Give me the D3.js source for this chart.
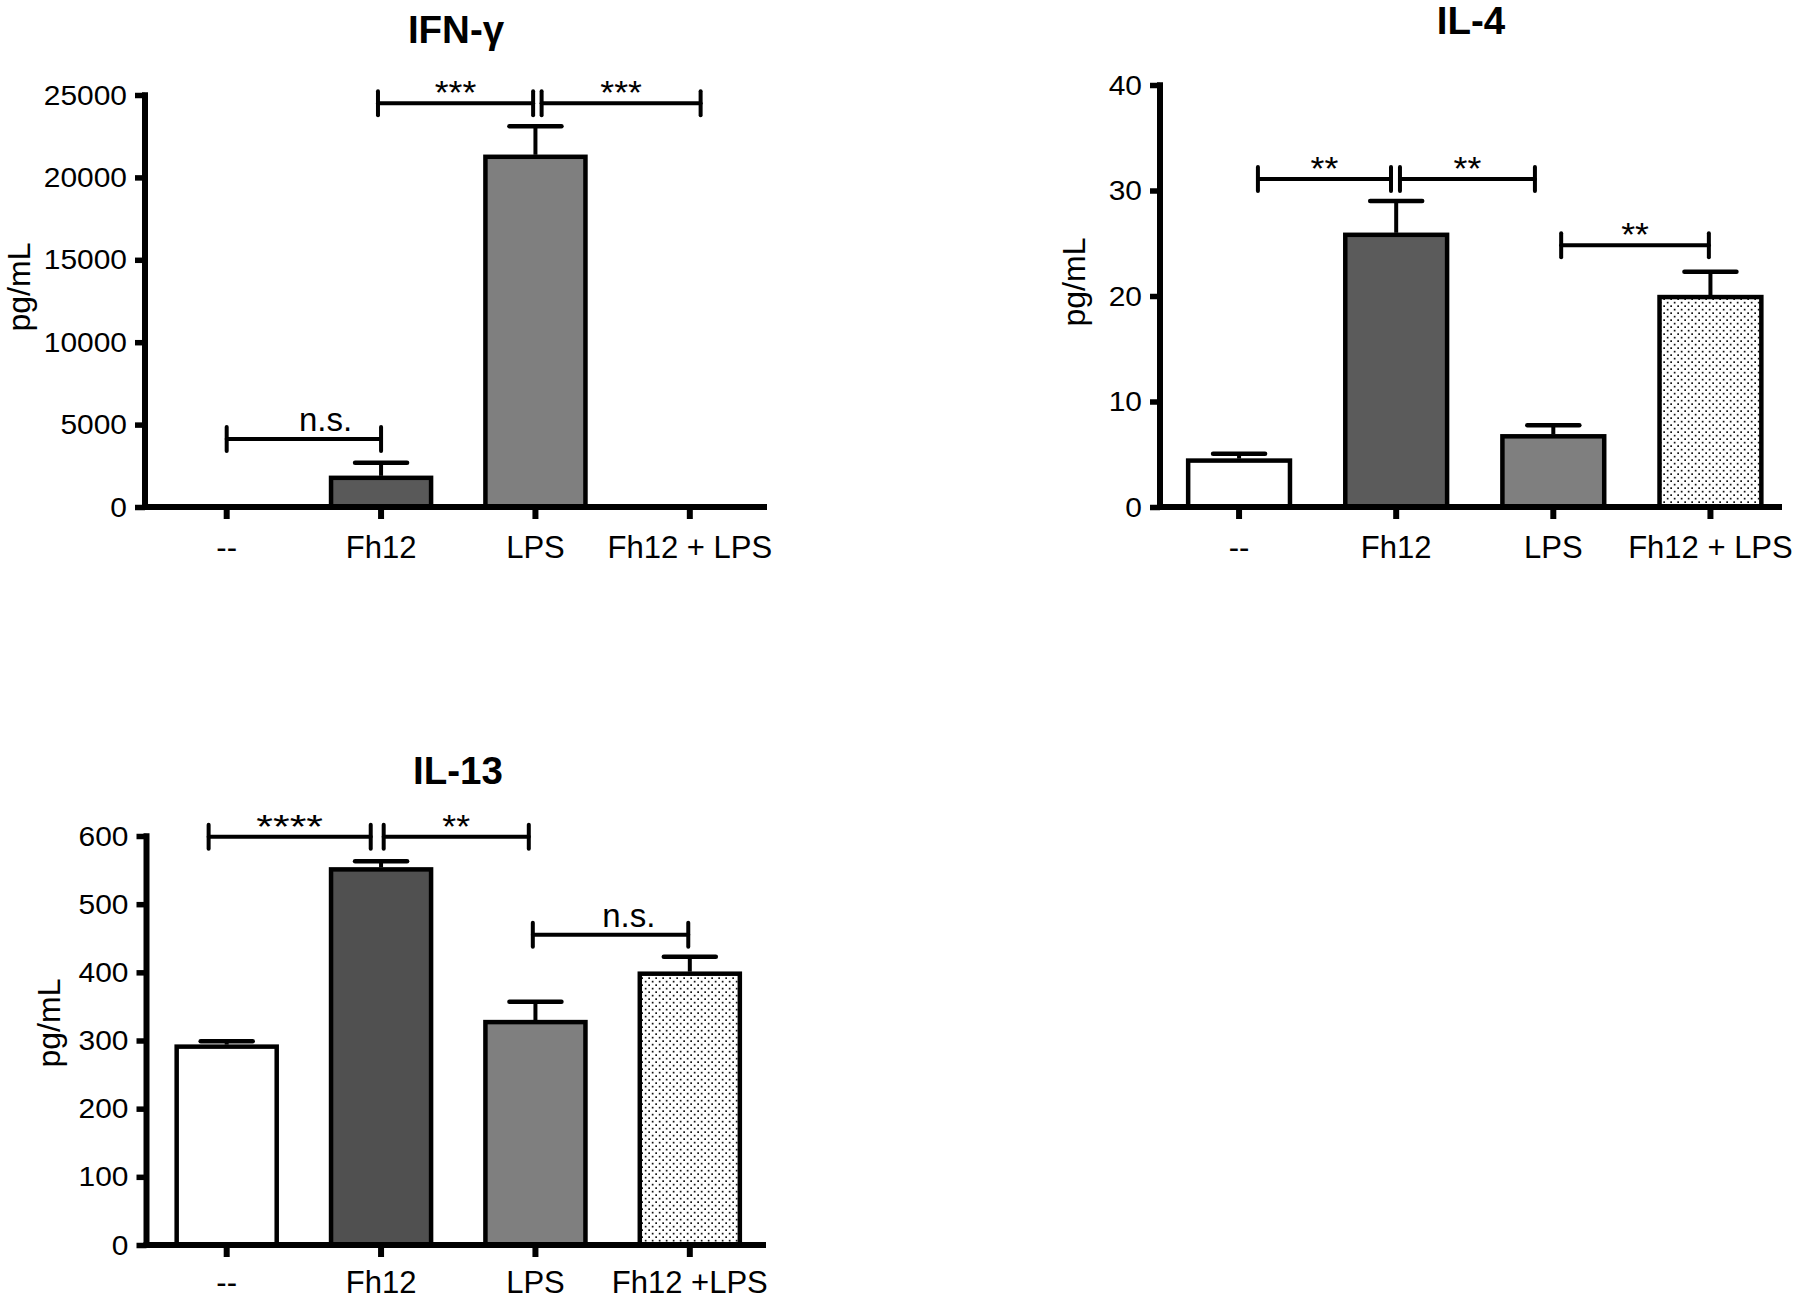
<!DOCTYPE html>
<html><head><meta charset="utf-8">
<script src="https://cdn.jsdelivr.net/npm/d3@7"></script>
<style>
body{margin:0;background:#fff}
text{font-family:"Liberation Sans",Arial,Helvetica,sans-serif;fill:#000}
</style>
</head><body>
<svg id="chart" width="1800" height="1299"></svg>
<script>
// ---------- data ----------
const categories = ["--", "Fh12", "LPS", "Fh12 + LPS"];
const categoriesIL13 = ["--", "Fh12", "LPS", "Fh12 +LPS"];

const ifnValues = [0, 1770, 21250, 0];
const ifnErrors = [0, 920, 1850, 0];
const ifnTicks = [0, 5000, 10000, 15000, 20000, 25000];

const il4Values = [4.4, 25.8, 6.7, 19.9];
const il4Errors = [0.65, 3.2, 1.05, 2.4];
const il4Ticks = [0, 10, 20, 30, 40];

const il13Values = [291, 551, 327, 398];
const il13Errors = [8, 12, 30, 25];
const il13Ticks = [0, 100, 200, 300, 400, 500, 600];

// significance brackets: from / to (category-index units), height (data units), label, label position (category units, null = middle)
const ifnBrackets = [
  [0.0, 1.0, 4130, "n.s.", 0.64],
  [0.98, 1.985, 24500, "***", null],
  [2.04, 3.07, 24500, "***", null]
];
const il4Brackets = [
  [0.12, 0.967, 31.1, "**", null],
  [1.024, 1.883, 31.1, "**", null],
  [2.05, 2.99, 24.8, "**", null]
];
const il13Brackets = [
  [-0.117, 0.933, 599, "****", null],
  [1.017, 1.957, 599, "**", null],
  [1.983, 2.99, 455, "n.s.", 2.605]
];

// ---------- styles / layout ----------
const svg = d3.select("#chart");
const defs = svg.append("defs");
const pat = defs.append("pattern").attr("id", "dots")
  .attr("patternUnits", "userSpaceOnUse").attr("width", 7).attr("height", 7);
pat.append("rect").attr("width", 7).attr("height", 7).attr("fill", "#fff");
pat.append("rect").attr("x", 0.8).attr("y", 0.8).attr("width", 1.7).attr("height", 1.7).attr("fill", "#111");
pat.append("rect").attr("x", 4.3).attr("y", 4.3).attr("width", 1.7).attr("height", 1.7).attr("fill", "#111");

const panels = [
  {title: "IFN-γ", cats: categories, values: ifnValues, errors: ifnErrors, ticks: ifnTicks, brackets: ifnBrackets,
   fills: ["#ffffff", "#595959", "#7f7f7f", "url(#dots)"],
   axisX: 145, range: [149.5, 767], axisEnd: 767, y0: 507, yTop: 95, catPad: 17,
   titlePos: [456, 43], ylabPos: [19, 287]},
  {title: "IL-4", cats: categories, values: il4Values, errors: il4Errors, ticks: il4Ticks, brackets: il4Brackets,
   fills: ["#ffffff", "#5b5b5b", "#7f7f7f", "url(#dots)"],
   axisX: 1160, range: [1160.5, 1789], axisEnd: 1782, y0: 507, yTop: 85, catPad: 17,
   titlePos: [1471, 34], ylabPos: [1074, 282]},
  {title: "IL-13", cats: categoriesIL13, values: il13Values, errors: il13Errors, ticks: il13Ticks, brackets: il13Brackets,
   fills: ["#ffffff", "#505050", "#7f7f7f", "url(#dots)"],
   axisX: 146.5, range: [149.5, 767], axisEnd: 766, y0: 1245, yTop: 836, catPad: 14,
   titlePos: [458, 784], ylabPos: [49, 1023]}
];

function stretch(sel, k) {
  sel.each(function () {
    const w = this.getComputedTextLength();
    d3.select(this).attr("textLength", w * k).attr("lengthAdjust", "spacingAndGlyphs");
  });
}

panels.forEach(p => {
  const g = svg.append("g");
  const x = d3.scaleBand().domain(p.cats).range(p.range).paddingInner(0.352).paddingOuter(0.176);
  const step = x.step();
  const c0 = x(p.cats[0]) + x.bandwidth() / 2;
  const xi = i => c0 + i * step; // category-index position
  const y = d3.scaleLinear().domain([0, d3.max(p.ticks)]).range([p.y0, p.yTop]);

  const rows = p.cats.map((c, i) => ({c, v: p.values[i], e: p.errors[i], f: p.fills[i]}));

  // bars
  g.selectAll("rect.bar").data(rows.filter(d => d.v > 0)).join("rect")
    .attr("class", "bar")
    .attr("x", d => x(d.c)).attr("width", x.bandwidth())
    .attr("y", d => y(d.v)).attr("height", d => y(0) - y(d.v))
    .attr("fill", d => d.f).attr("stroke", "#000").attr("stroke-width", 4.5);

  // error bars (upper only)
  const eb = g.selectAll("g.err").data(rows.filter(d => d.e > 0)).join("g").attr("class", "err");
  eb.append("line")
    .attr("x1", d => x(d.c) + x.bandwidth() / 2).attr("x2", d => x(d.c) + x.bandwidth() / 2)
    .attr("y1", d => y(d.v) - 2).attr("y2", d => y(d.v + d.e))
    .attr("stroke", "#000").attr("stroke-width", 4);
  eb.append("line")
    .attr("x1", d => x(d.c) + x.bandwidth() / 2 - 26).attr("x2", d => x(d.c) + x.bandwidth() / 2 + 26)
    .attr("y1", d => y(d.v + d.e)).attr("y2", d => y(d.v + d.e))
    .attr("stroke", "#000").attr("stroke-width", 4.5).attr("stroke-linecap", "round");

  // y axis
  const yAxis = d3.axisLeft(y).tickValues(p.ticks).tickSize(10).tickPadding(8).tickFormat(d3.format("d"));
  const ya = g.append("g").attr("transform", `translate(${p.axisX},0)`).call(yAxis);
  ya.select(".domain").remove();
  ya.selectAll(".tick line").attr("stroke", "#000").attr("stroke-width", 5.5);
  ya.selectAll(".tick text").attr("font-size", 28.5).attr("fill", "#000")
    .style("font-family", "'Liberation Sans',Arial,sans-serif");
  stretch(ya.selectAll(".tick text"), 1.05);
  g.append("line").attr("x1", p.axisX).attr("x2", p.axisX)
    .attr("y1", p.yTop - 2.75).attr("y2", p.y0 + 3)
    .attr("stroke", "#000").attr("stroke-width", 6);

  // x axis
  const xAxis = d3.axisBottom(x).tickSize(12).tickPadding(p.catPad);
  const xa = g.append("g").attr("transform", `translate(0,${p.y0})`).call(xAxis);
  xa.select(".domain").remove();
  xa.selectAll(".tick line").attr("stroke", "#000").attr("stroke-width", 6);
  xa.selectAll(".tick text").attr("font-size", 31).attr("fill", "#000")
    .style("font-family", "'Liberation Sans',Arial,sans-serif");
  g.append("line").attr("x1", p.axisX - 3).attr("x2", p.axisEnd)
    .attr("y1", p.y0).attr("y2", p.y0)
    .attr("stroke", "#000").attr("stroke-width", 6);

  // significance brackets
  p.brackets.forEach(b => {
    const [a, bb, v, lab, lp] = b;
    const x1 = xi(a), x2 = xi(bb), yy = y(v);
    const bg = g.append("g").attr("stroke", "#000").attr("stroke-width", 4).attr("stroke-linecap", "round");
    bg.append("line").attr("x1", x1).attr("x2", x2).attr("y1", yy).attr("y2", yy);
    bg.append("line").attr("x1", x1).attr("x2", x1).attr("y1", yy - 12).attr("y2", yy + 12);
    bg.append("line").attr("x1", x2).attr("x2", x2).attr("y1", yy - 12).attr("y2", yy + 12);
    const tx = lp === null ? (x1 + x2) / 2 : xi(lp);
    const isAst = lab.indexOf("*") >= 0;
    const t = g.append("text").attr("x", tx).attr("y", isAst ? yy + 1 : yy - 8)
      .attr("text-anchor", "middle").attr("font-size", 33).text(lab);
    if (isAst) stretch(t, lab.length > 3 ? 1.3 : 1.08);
  });

  // title
  g.append("text").attr("x", p.titlePos[0]).attr("y", p.titlePos[1])
    .attr("text-anchor", "middle").attr("font-size", 38.5).attr("font-weight", "bold").text(p.title);

  // y label
  g.append("text").attr("transform", `translate(${p.ylabPos[0]},${p.ylabPos[1]}) rotate(-90)`)
    .attr("text-anchor", "middle").attr("dy", "0.35em").attr("font-size", 32).text("pg/mL");
});
</script>
</body></html>
